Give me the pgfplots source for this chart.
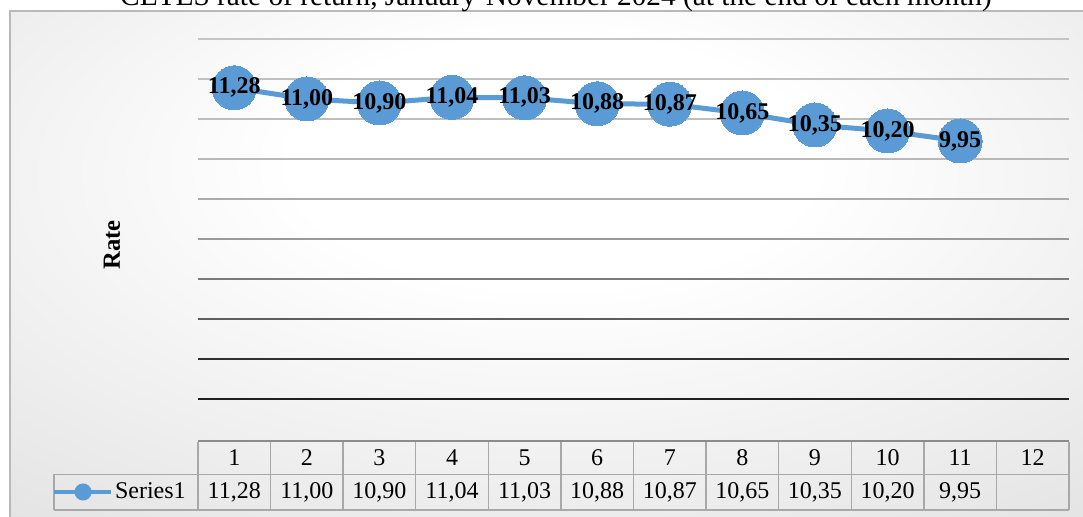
\documentclass[border=0pt]{standalone}
\usepackage{pgfplots}
\pgfplotsset{compat=1.18}
\usepackage{fontspec}
\setmainfont{Liberation Serif}
\definecolor{serblue}{HTML}{5B9BD5}
\definecolor{bggray}{HTML}{D2D2D2}
\definecolor{tabline}{HTML}{A8A8A8}
\pgfdeclareradialshading{bgshade}{\pgfpoint{0bp}{12bp}}{color(0bp)=(white); color(12bp)=(white); color(58bp)=(bggray); color(100bp)=(bggray)}

\begin{document}
\begin{tikzpicture}
\useasboundingbox (0,0) rectangle (812.25pt,387.75pt);
\shade[shading=bgshade] (7.5pt,-12pt) rectangle (822pt,379.5pt);
\draw[color=gray!55, line width=1pt] (7.5pt,-20pt) -- (7.5pt,379.5pt) -- (830pt,379.5pt);
\node[font=\fontsize{22}{22}\selectfont, anchor=base, inner sep=0pt] at (417pt,383.5pt) {CETES rate of return, January-November 2024 (at the end of each month)};

\begin{axis}[
  at={(148.5pt,58.5pt)}, anchor=south west,
  scale only axis, width=653.25pt, height=300pt,
  xmin=0.5, xmax=12.5, ymin=2.5, ymax=12.5,
  clip=false,
  axis line style={draw=none},
  major tick length=0pt,
  ytick=\empty,
  xtick={1,2,3,4,5,6,7,8,9,10,11,12},
  xticklabels={1,2,3,4,5,6,7,8,9,10,11,12},
  xticklabel style={font=\fontsize{18}{18}\selectfont, anchor=center, yshift=-14pt},
  ylabel={Rate},
  every axis y label/.style={at={(axis description cs:-0.0987,0.485)}, rotate=90, anchor=center, font=\fontsize{18.5}{18.5}\selectfont\bfseries},
  legend style={at={(axis description cs:-0.0115,-0.1325)}, anchor=east, draw=none, fill=none, inner sep=0pt, font=\fontsize{18}{18}\selectfont, nodes={inner sep=1.5pt}},
  legend image code/.code={\draw[serblue, line width=3pt] (-3pt,0pt) -- (40pt,0pt); \fill[serblue] (19pt,0pt) circle (4.5pt);},
]
% gridlines
\draw[color={rgb,255:red,196;green,196;blue,196}, line width=1.1pt] (axis cs:0.5,12.5) -- (axis cs:12.5,12.5);
\draw[color={rgb,255:red,192;green,192;blue,192}, line width=1.1pt] (axis cs:0.5,11.5) -- (axis cs:12.5,11.5);
\draw[color={rgb,255:red,189;green,189;blue,189}, line width=1.1pt] (axis cs:0.5,10.5) -- (axis cs:12.5,10.5);
\draw[color={rgb,255:red,184;green,184;blue,184}, line width=1.1pt] (axis cs:0.5,9.5) -- (axis cs:12.5,9.5);
\draw[color={rgb,255:red,171;green,171;blue,171}, line width=1.1pt] (axis cs:0.5,8.5) -- (axis cs:12.5,8.5);
\draw[color={rgb,255:red,154;green,154;blue,154}, line width=1.2pt] (axis cs:0.5,7.5) -- (axis cs:12.5,7.5);
\draw[color={rgb,255:red,122;green,122;blue,122}, line width=1.3pt] (axis cs:0.5,6.5) -- (axis cs:12.5,6.5);
\draw[color={rgb,255:red,94;green,94;blue,94}, line width=1.4pt] (axis cs:0.5,5.5) -- (axis cs:12.5,5.5);
\draw[color={rgb,255:red,48;green,48;blue,48}, line width=1.5pt] (axis cs:0.5,4.5) -- (axis cs:12.5,4.5);
\draw[color={rgb,255:red,32;green,32;blue,32}, line width=1.5pt] (axis cs:0.5,3.5) -- (axis cs:12.5,3.5);
% data table
\draw[color={rgb,255:red,140;green,140;blue,140}, line width=2.2pt] (axis cs:0.5,2.45) -- (axis cs:12.5,2.45);
\foreach \xx in {0.5,1.5,2.5,3.5,4.5,5.5,6.5,7.5,8.5,9.5,10.5,11.5,12.5} {
  \edef\tmp{\noexpand\draw[color=tabline, line width=1.1pt] (axis cs:\xx,2.42) -- (axis cs:\xx,0.725);}\tmp
}
\draw[color=tabline, line width=1.1pt] (axis cs:-1.483,1.6125) -- (axis cs:12.5,1.6125);
\draw[color=tabline, line width=1.1pt] (axis cs:-1.483,0.725) -- (axis cs:12.5,0.725);
\draw[color=tabline, line width=1.1pt] (axis cs:-1.483,1.6125) -- (axis cs:-1.483,0.725);
\begin{scope}[every node/.style={font=\fontsize{18}{18}\selectfont, anchor=center}]
\node at (axis cs:1,1.175) {11,28};
\node at (axis cs:2,1.175) {11,00};
\node at (axis cs:3,1.175) {10,90};
\node at (axis cs:4,1.175) {11,04};
\node at (axis cs:5,1.175) {11,03};
\node at (axis cs:6,1.175) {10,88};
\node at (axis cs:7,1.175) {10,87};
\node at (axis cs:8,1.175) {10,65};
\node at (axis cs:9,1.175) {10,35};
\node at (axis cs:10,1.175) {10,20};
\node at (axis cs:11,1.175) {9,95};
\end{scope}

\addplot[color=serblue, line width=3.75pt, mark=*, mark size=16.5pt,
  mark options={fill=serblue, draw=serblue, line width=0pt},
  point meta=explicit symbolic, nodes near coords,
  every node near coord/.append style={anchor=center, font=\fontsize{18}{18}\selectfont\bfseries, text=black}]
  coordinates {
  (1,11.28) [11,28]
  (2,11.00) [11,00]
  (3,10.90) [10,90]
  (4,11.04) [11,04]
  (5,11.03) [11,03]
  (6,10.88) [10,88]
  (7,10.87) [10,87]
  (8,10.65) [10,65]
  (9,10.35) [10,35]
  (10,10.20) [10,20]
  (11,9.95) [9,95]
  };
\addlegendentry{Series1}
\end{axis}
\end{tikzpicture}
\end{document}
